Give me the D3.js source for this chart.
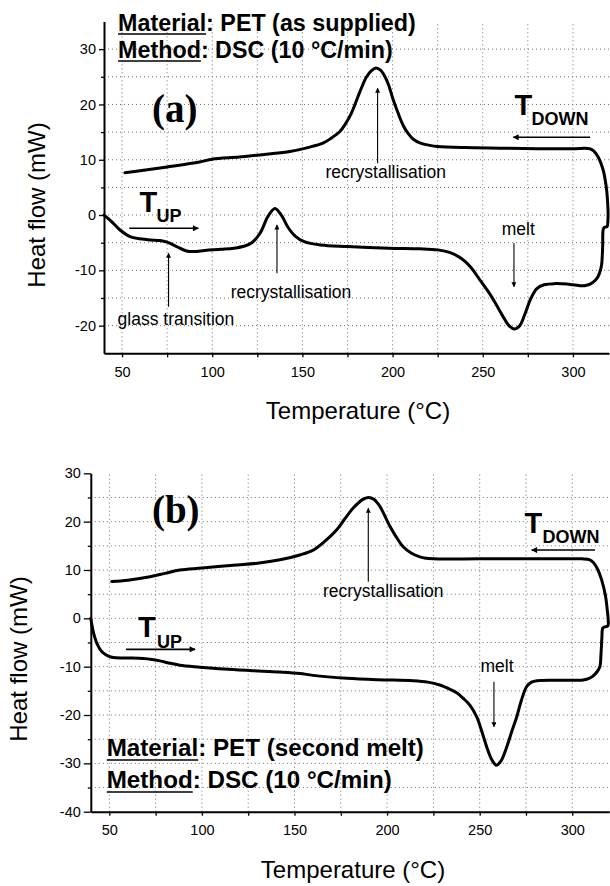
<!DOCTYPE html>
<html>
<head>
<meta charset="utf-8">
<script src="https://cdn.jsdelivr.net/npm/d3@7"></script>
<style>
html,body{margin:0;padding:0;background:#fff;}
svg{display:block;}
text{font-family:"Liberation Sans",Arial,Helvetica,sans-serif;fill:#000;}
</style>
</head>
<body>
<svg id="chart" width="610" height="886"></svg>
<script>
// ---------- DATA ----------
// Panel (a): PET as supplied – one continuous DSC loop (heating, then cooling) [T (°C), heat flow (mW)]
const loopA = [
  [40,0],[43.3,-0.9],[48.9,-2.7],[54.4,-3.9],[60,-4.3],[65.5,-4.5],[71,-4.6],[75,-4.9],[80.3,-5.7],[85.8,-6.5],
  [90,-6.6],[96,-6.4],[105,-6.2],[112,-6.0],[118,-5.6],[122,-5.0],[126.5,-3.3],[131,-0.2],[134.8,1.2],[138.5,-0.1],
  [142,-2.2],[146,-3.8],[151,-4.8],[160,-5.4],[175,-5.7],[198,-6.0],[215,-6.1],[225,-6.3],[232,-6.8],[238,-7.8],
  [243,-9.3],[249,-12],[254,-14.3],[258,-16.5],[261.5,-18.5],[264.5,-20],[267.5,-20.6],[270.5,-20],[273.5,-17.8],
  [276.5,-15.2],[280,-13.3],[284,-12.6],[290,-12.4],[300,-12.6],[305,-12.8],[307.6,-12.7],[311,-12.2],[313.8,-11.2],
  [315.4,-9.8],[316,-8.7],[316.5,-5.5],[316.8,-2.6],[317.5,-2.2],[318.9,-2.1],[319.4,-1],[319.5,0.3],[319.2,2.5],
  [318.7,4.5],[317.8,6.5],[316.8,8.1],[314,10.5],[311.5,11.6],[309.4,12.0],[300,12.0],[280,12.0],[260,12.1],
  [240,12.2],[225,12.4],[220.7,12.6],[215.5,13.0],[211.5,13.7],[208.5,14.8],[205.9,16.2],[203,18.5],[200.4,20.8],
  [197.8,23.5],[195.8,25.0],[193.3,26.2],[190.8,26.6],[188.3,26.1],[185.6,25.0],[183,23.2],[180.1,20.8],[177,18.3],
  [173.5,16.3],[170.8,15.1],[166,13.9],[161.4,13.0],[153,12.2],[143.1,11.5],[130,11.0],[115,10.5],[100,10.1],
  [93,9.6],[75,8.7],[62,8.1],[51.6,7.65]
];
// Panel (b): PET second melt
const loopB = [
  [40,0],[41,-2.2],[42.2,-4],[43.3,-5.2],[45,-6.4],[46.9,-7.2],[49.5,-7.8],[52.1,-8.1],[58,-8.2],[68.3,-8.3],
  [73,-8.5],[77.3,-8.8],[83,-9.3],[88.1,-9.7],[98.9,-10.1],[112,-10.5],[125.9,-10.8],[142.2,-11.1],[152.9,-11.4],
  [160,-11.8],[178.2,-12.4],[195,-12.7],[214.1,-12.9],[222,-13.2],[228.5,-13.8],[233,-14.5],[237.6,-15.4],[241,-16.5],
  [244.8,-18],[248.4,-20.4],[251,-23.2],[253.8,-26.6],[256.5,-29.2],[259,-30.4],[261.5,-29.5],[264.6,-26.6],
  [267.5,-23.2],[270,-20.4],[272.5,-17],[275.4,-14.1],[278,-13.2],[281,-12.9],[290,-12.8],[300,-12.8],[305,-12.8],
  [307.8,-12.6],[311,-12.0],[313.5,-11.0],[314.9,-10],[315.5,-7.5],[316,-4],[316.4,-2.1],[317.2,-1.8],[319.2,-1.6],
  [319.4,-0.3],[318.9,1.7],[318,4.5],[315.9,7.9],[313.5,10.3],[311.5,11.5],[309.5,12.1],[305,12.3],[280,12.3],
  [250,12.3],[224.9,12.3],[220,12.5],[217.7,12.7],[213,13.5],[208.7,14.8],[205,16.8],[201.6,19.0],[198.5,21.4],
  [196.2,23.1],[193,24.6],[189.8,25.0],[186.5,24.5],[181.7,22.8],[177,20.5],[172.8,18.3],[166,15.8],[160.1,14.1],
  [152.9,13.1],[142.2,12.1],[130,11.4],[116.9,11.0],[100,10.4],[88.1,10.0],[80,9.3],[72,8.6],[60,7.9],[51.3,7.6]
];

const xTicks = [50,100,150,200,250,300];
const xMinorTicks = [75,125,175,225,275];
const xGrid = [50,75,100,125,150,175,200,225,250,275,300];
const yTicksA = [-20,-10,0,10,20,30];
const yMinorA = [-15,-5,5,15,25];
const yTicksB = [-40,-30,-20,-10,0,10,20,30];
const yMinorB = [-35,-25,-15,-5,5,15,25];

const xTitle = "Temperature (°C)";
const yTitle = "Heat flow (mW)";

// annotations in data coordinates
const annotA = {
  panelLabel: {t:"(a)", T:66.6, v:16.8},
  info: [{T:47.8, v:33.37, key:"Material", rest:": PET (as supplied)"},
         {T:47.8, v:28.49, key:"Method", rest:": DSC (10 °C/min)"}],
  labels: [
    {t:"recrystallisation", T:196.2, v:6.64},
    {t:"recrystallisation", T:143.7, v:-15.05},
    {t:"glass transition", T:79.9, v:-19.88},
    {t:"melt", T:269.7, v:-3.61}
  ],
  arrows: [
    {T:191.7, v0:9.36, v1:22.92},
    {T:135.9, v0:-10.53, v1:-1.8},
    {T:75.8, v0:-16.57, v1:-6.92},
    {T:267.3, v0:-5.11, v1:-12.96}
  ],
  up:   {T:59.7, v:0.61, subT:69.1, subV:-1.2, a0:54.0, a1:92.3, av:-2.4},
  down: {T:267.6, v:18.09, subT:277.0, subV:16.28, a0:309.5, a1:266.9, av:14.06}
};
const annotB = {
  panelLabel: {t:"(b)", T:73.0, v:19.7},
  info: [{T:48.6, v:-28.49, key:"Material", rest:": PET (second melt)"},
         {T:48.6, v:-35.11, key:"Method", rest:": DSC (10 °C/min)"}],
  labels: [
    {t:"recrystallisation", T:197.95, v:4.46},
    {t:"melt", T:259.35, v:-11.06}
  ],
  arrows: [
    {T:189.85, v0:7.56, v1:22.75},
    {T:257.7, v0:-13.12, v1:-22.43}
  ],
  up:   {T:65.5, v:-3.81, subT:75.7, subV:-6.21, a0:59.0, a1:96.3, av:-6.42},
  down: {T:274.2, v:17.58, subT:283.9, subV:15.51, a0:312.3, a1:278.1, av:14.12}
};

// ---------- DRAW ----------
const svg = d3.select("#chart");
const defs = svg.append("defs");
defs.append("marker").attr("id","bigHead").attr("viewBox","0 0 10 10").attr("refX",9).attr("refY",5)
  .attr("markerWidth",9).attr("markerHeight",6).attr("markerUnits","userSpaceOnUse").attr("orient","auto")
  .append("path").attr("d","M0,0L10,5L0,10Z").attr("fill","#000");
defs.append("marker").attr("id","smallHead").attr("viewBox","0 0 10 10").attr("refX",9).attr("refY",5)
  .attr("markerWidth",7).attr("markerHeight",5).attr("markerUnits","userSpaceOnUse").attr("orient","auto")
  .append("path").attr("d","M0,0L10,5L0,10Z").attr("fill","#000");

const fmt = d => String(d);

function panel(cfg){
  const {data, xr, yd, yr, yTicks, yMinor, annot, infoSize, titleX, titleBaseline, yTitleX, yTitleY, yTickSize, infoLine} = cfg;
  const x = d3.scaleLinear().domain([40,320]).range(xr);
  const y = d3.scaleLinear().domain(yd).range(yr);
  const g = svg.append("g");

  // grid
  const grid = g.append("g").attr("stroke","#707070").attr("stroke-width",1).attr("stroke-dasharray","1,3");
  grid.selectAll("line.v").data(xGrid).join("line")
    .attr("x1",d=>x(d)).attr("x2",d=>x(d)).attr("y1",y(yd[0])).attr("y2",y(yd[1]));
  grid.selectAll("line.h").data(yTicks.concat(yMinor).filter(d=>d>yd[0] && d<yd[1])).join("line")
    .attr("x1",x(40)).attr("x2",x(320)).attr("y1",d=>y(d)).attr("y2",d=>y(d));

  // axes
  const xAxis = d3.axisBottom(x).tickValues(xTicks).tickSize(4).tickSizeOuter(0).tickPadding(9).tickFormat(fmt);
  const gx = g.append("g").attr("transform",`translate(0,${y(yd[0])})`).call(xAxis);
  gx.selectAll("text").style("font-size","14.5px").attr("fill","#000");
  gx.select(".domain").attr("stroke-width",2);
  gx.selectAll(".tick line").attr("stroke-width",1.3);
  const gxm = g.append("g").attr("transform",`translate(0,${y(yd[0])})`)
    .call(d3.axisBottom(x).tickValues(xMinorTicks).tickSize(4).tickSizeOuter(0).tickFormat(""));
  gxm.select(".domain").remove();
  gxm.selectAll(".tick line").attr("stroke-width",1.3);

  const yAxis = d3.axisLeft(y).tickValues(yTicks).tickSize(yTickSize).tickSizeOuter(0).tickPadding(3).tickFormat(fmt);
  const gy = g.append("g").attr("transform",`translate(${x(40)},0)`).call(yAxis);
  gy.selectAll("text").style("font-size","14.5px").attr("fill","#000");
  gy.select(".domain").attr("stroke-width",2);
  gy.selectAll(".tick line").attr("stroke-width",1.3);
  const gym = g.append("g").attr("transform",`translate(${x(40)},0)`)
    .call(d3.axisLeft(y).tickValues(yMinor).tickSize(3).tickSizeOuter(0).tickFormat(""));
  gym.select(".domain").remove();
  gym.selectAll(".tick line").attr("stroke-width",1.3);

  // axis titles
  g.append("text").attr("x",titleX).attr("y",titleBaseline).attr("text-anchor","middle")
    .style("font-size","24px").text(xTitle);
  g.append("text").attr("transform",`translate(${yTitleX},${yTitleY}) rotate(-90)`).attr("text-anchor","middle")
    .style("font-size","24px").text(yTitle);

  // curve
  const line = d3.line().x(d=>x(d[0])).y(d=>y(d[1])).curve(d3.curveCatmullRom.alpha(0.5));
  g.append("path").datum(data).attr("d",line).attr("fill","none").attr("stroke","#000")
    .attr("stroke-width",3).attr("stroke-linejoin","round").attr("stroke-linecap","round");

  // panel label
  g.append("text").attr("x",x(annot.panelLabel.T)).attr("y",y(annot.panelLabel.v))
    .style("font-family",'"Liberation Serif","Times New Roman",serif').style("font-weight","bold")
    .style("font-size","39px").text(annot.panelLabel.t);

  // info text with underlined keys
  annot.info.forEach(it=>{
    const t = g.append("text").attr("x",x(it.T)).attr("y",y(it.v))
      .style("font-weight","bold").style("font-size",infoSize+"px");
    const k = t.append("tspan").text(it.key);
    t.append("tspan").text(it.rest);
    const w = k.node().getComputedTextLength();
    g.append("line").attr("x1",x(it.T)).attr("x2",x(it.T)+w)
      .attr("y1",y(it.v)+infoLine).attr("y2",y(it.v)+infoLine).attr("stroke","#000").attr("stroke-width",1.6);
  });

  // annotation labels
  g.selectAll("text.ann").data(annot.labels).join("text").attr("class","ann")
    .attr("x",d=>x(d.T)).attr("y",d=>y(d.v)).attr("text-anchor","middle")
    .style("font-size","17.5px").text(d=>d.t);
  g.selectAll("line.ann").data(annot.arrows).join("line").attr("class","ann")
    .attr("x1",d=>x(d.T)).attr("x2",d=>x(d.T)).attr("y1",d=>y(d.v0)).attr("y2",d=>y(d.v1))
    .attr("stroke","#000").attr("stroke-width",1.1).attr("marker-end","url(#smallHead)");

  // T_UP / T_DOWN
  [[annot.up,"UP"],[annot.down,"DOWN"]].forEach(([a,sub])=>{
    g.append("text").attr("x",x(a.T)).attr("y",y(a.v)).style("font-weight","bold").style("font-size","29px").text("T");
    g.append("text").attr("x",x(a.subT)).attr("y",y(a.subV)).style("font-weight","bold").style("font-size","18px").text(sub);
    g.append("line").attr("x1",x(a.a0)).attr("x2",x(a.a1)).attr("y1",y(a.av)).attr("y2",y(a.av))
      .attr("stroke","#000").attr("stroke-width",1.6).attr("marker-end","url(#bigHead)");
  });
}

panel({data:loopA, xr:[104,609], yd:[-25,35], yr:[353.3,21.5], yTicks:yTicksA, yMinor:yMinorA, annot:annotA,
  infoSize:23.3, titleX:358, titleBaseline:418.5, yTitleX:45, yTitleY:205, yTickSize:5, infoLine:3.5});
panel({data:loopB, xr:[90.8,609.3], yd:[-40,30], yr:[811.7,473.3], yTicks:yTicksB, yMinor:yMinorB, annot:annotB,
  infoSize:24.2, titleX:353, titleBaseline:877.5, yTitleX:27, yTitleY:659, yTickSize:7, infoLine:4});
</script>
</body>
</html>
